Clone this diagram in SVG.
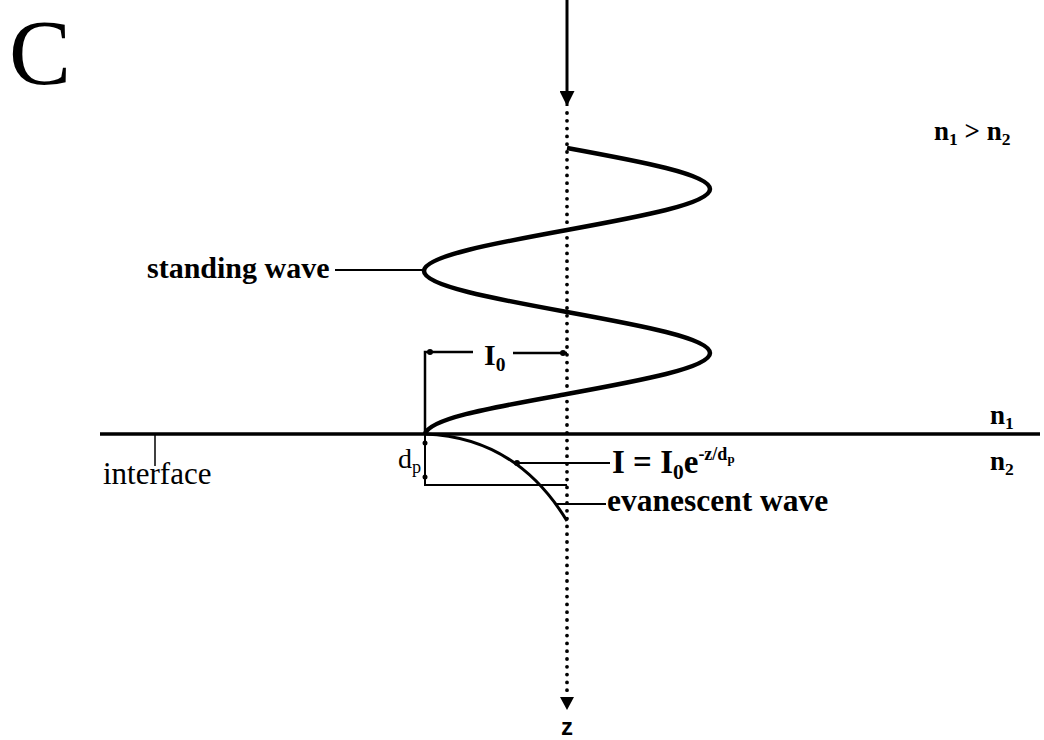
<svg xmlns="http://www.w3.org/2000/svg" width="1044" height="740" viewBox="0 0 1044 740">
<style>
.t{font-family:"Liberation Serif","Times New Roman",serif;fill:#000}
.b{font-weight:bold}
.ln{stroke:#000;fill:none}
.sub{font-size:65%}
</style>
<defs>
<marker id="ah" viewBox="0 0 10 10" refX="10" refY="5" markerWidth="15" markerHeight="15" markerUnits="userSpaceOnUse" orient="auto"><path d="M0,0 L10,5 L0,10 z" fill="#000"/></marker>
</defs>
<rect width="1044" height="740" fill="#fff"/>
<g id="title"><text class="t" x="9" y="84" font-size="93">C</text></g>
<g id="connectors">
<line class="ln" x1="567" y1="0" x2="567" y2="106" stroke-width="3" marker-end="url(#ah)"/>
<line class="ln" x1="567" y1="113" x2="567" y2="691" stroke-width="3.8" stroke-linecap="round" stroke-dasharray="0 7.8"/>
<path d="M560,697 L574,697 L567,710 z" fill="#000"/>
<line class="ln" x1="100" y1="434" x2="1040" y2="434" stroke-width="3.5"/>
<line class="ln" x1="155" y1="434" x2="155" y2="466" stroke-width="1.5"/>
<line class="ln" x1="335" y1="270" x2="424" y2="270" stroke-width="2"/>
<path class="ln" stroke-width="2.5" d="M425,434 V352 H473"/>
<circle cx="430" cy="352" r="3"/>
<line class="ln" x1="513" y1="353" x2="567" y2="353" stroke-width="2.5"/>
<circle cx="563" cy="353" r="3"/>
<path class="ln" stroke-width="2" d="M425,434 V485 H567"/>
<circle cx="425" cy="443" r="2.5"/>
<circle cx="425" cy="477" r="2.5"/>
<line class="ln" x1="517" y1="463" x2="610" y2="463" stroke-width="2"/>
<circle cx="517" cy="463" r="3"/>
<line class="ln" x1="555" y1="504" x2="606" y2="504" stroke-width="2"/>
</g>
<g id="standing-wave-curve">
<path class="ln" stroke-width="4.5" d="M567,148 C640.3,161.4 710,174.2 710,189 C710,203.8 640.3,216.6 567,230 C493.7,243.4 424,256.2 424,271 C424,285.8 493.7,298.6 567,312 C640.3,325.4 710,338.2 710,353 C710,367.8 640.3,380.6 567,394 C493.7,407.4 430,418 425,434"/>
</g>
<g id="evanescent-curve">
<path class="ln" stroke-width="3" d="M425,434 C480,436 530,460 567,521"/>
</g>
<g id="label-standing-wave"><text class="t b" x="147" y="278" font-size="30">standing wave</text></g>
<g id="label-interface"><text class="t" x="103" y="484" font-size="31">interface</text></g>
<g id="label-I0"><text class="t b" x="484" y="365" font-size="30">I<tspan class="sub" dy="6">0</tspan></text></g>
<g id="label-dp"><text class="t" x="398" y="468" font-size="28">d<tspan class="sub" dy="5">p</tspan></text></g>
<g id="label-equation"><text class="t b" x="612" y="473" font-size="33">I = I<tspan class="sub" dy="6">0</tspan><tspan dy="-6">e</tspan><tspan font-size="18" dy="-13">-z/d</tspan><tspan font-size="13" dy="3">p</tspan></text></g>
<g id="label-evanescent"><text class="t b" x="607" y="511" font-size="31.5">evanescent wave</text></g>
<g id="label-n1n2"><text class="t b" x="934" y="140" font-size="27">n<tspan class="sub" dy="5">1</tspan><tspan dy="-5"> &gt; n</tspan><tspan class="sub" dy="5">2</tspan></text></g>
<g id="label-n1"><text class="t b" x="990" y="424" font-size="27">n<tspan class="sub" dy="5">1</tspan></text></g>
<g id="label-n2"><text class="t b" x="990" y="470" font-size="27">n<tspan class="sub" dy="5">2</tspan></text></g>
<g id="label-z"><text x="567" y="735" font-size="24" font-weight="bold" text-anchor="middle" font-family="Liberation Sans, Arial, sans-serif">z</text></g>
</svg>
